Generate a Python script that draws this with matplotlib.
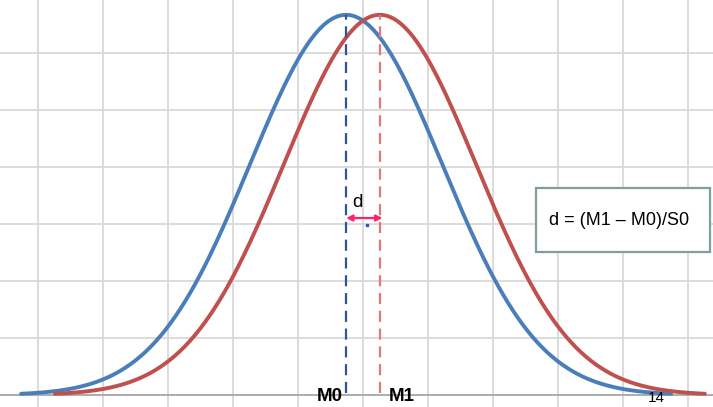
import numpy as np
import matplotlib.pyplot as plt
from matplotlib.patches import Rectangle

# distribution parameters (in grid units)
means = [4.74, 5.26]          # M0, M1
sds = [1.48, 1.48]
peak_height = 6.67
half_range = 5.0
curve_colors = ["#4a7ebb", "#c0504d"]
dash_colors = ["#2f5597", "#e07a7a"]
point_labels = ["M0", "M1"]
label_x = [4.49, 5.60]
formula_text = "d = (M1 \u2013 M0)/S0"
arrow_label = "d"
corner_label = "14"

fig = plt.figure(figsize=(7.13, 4.07), dpi=100)
ax = fig.add_axes([0, 0, 1, 1])
ax.set_xlim(-0.585, 10.385)
ax.set_ylim(-0.21, 6.93)
ax.axis("off")

# grid
for gx in range(0, 11):
    ax.axvline(gx, color="#d9d9d9", lw=1.3, zorder=0)
for gy in range(1, 7):
    ax.axhline(gy, color="#d9d9d9", lw=1.3, zorder=0)
ax.axhline(0, color="#a6a6a6", lw=1.3, zorder=0)

# curves
for m, s, c in zip(means, sds, curve_colors):
    x = np.linspace(m - half_range, m + half_range, 400)
    y = peak_height * np.exp(-0.5 * ((x - m) / s) ** 2)
    ax.plot(x, y, color=c, lw=2.8, solid_capstyle="round", zorder=3)

# dashed mean lines
for m, c in zip(means, dash_colors):
    ax.plot([m, m], [0.03, peak_height], color=c, lw=1.6,
            dashes=(5, 3), zorder=4)

# d arrow
ax.annotate("", xy=(means[1] + 0.04, 3.105), xytext=(means[0] + 0.0, 3.105),
            arrowprops=dict(arrowstyle="<|-|>", color="#ff2070", lw=1.6,
                            mutation_scale=9, shrinkA=0, shrinkB=0), zorder=5)
ax.text(4.92, 3.37, arrow_label, fontsize=13.5, family="Liberation Sans",
        ha="center", va="center", zorder=5)
ax.plot([5.06], [2.98], marker="s", ms=1.5, color="#3050d0", zorder=5)

# formula box
ax.add_patch(Rectangle((7.66, 2.51), 2.68, 1.12, fill=True, facecolor="white",
                       edgecolor="#7f9f9f", lw=1.6, zorder=6))
ax.text(7.86, 3.07, formula_text, fontsize=13, family="Liberation Sans",
        ha="left", va="center", zorder=7)

# labels
for lx, lab in zip(label_x, point_labels):
    ax.text(lx, -0.03, lab, fontsize=13.5, fontweight="bold",
            family="Liberation Sans", ha="center", va="center", zorder=7)
ax.text(9.51, -0.05, corner_label, fontsize=11, family="Liberation Sans",
        ha="center", va="center", zorder=7)

fig.savefig("out.png", dpi=100)
